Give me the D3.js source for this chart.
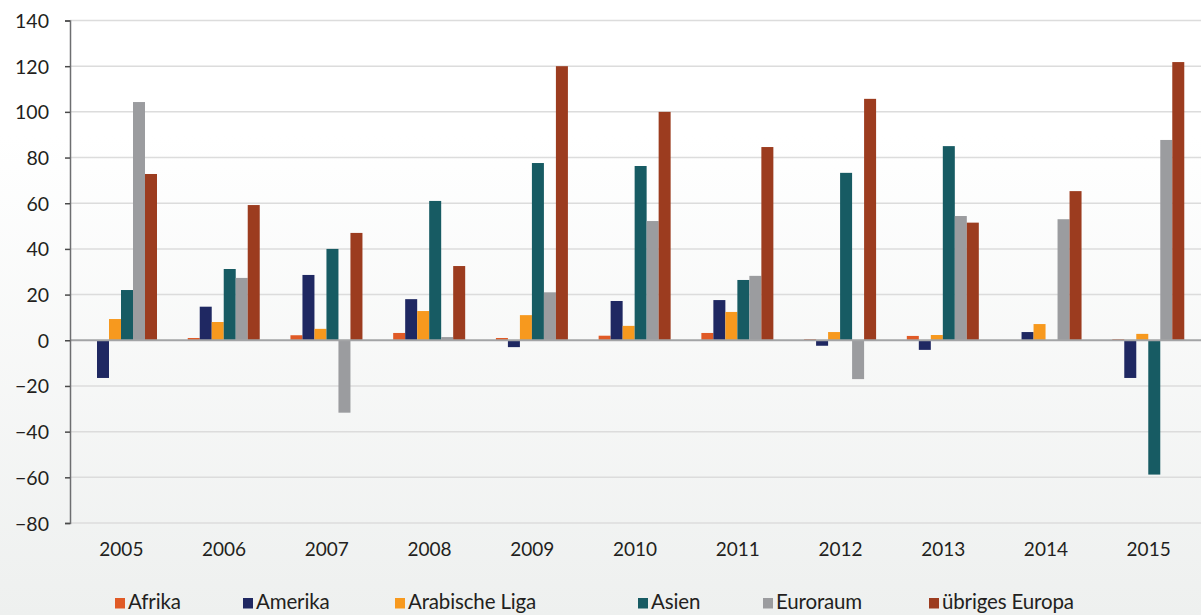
<!DOCTYPE html>
<html>
<head>
<meta charset="utf-8">
<script src="https://cdn.jsdelivr.net/npm/d3@7"></script>
<style>
  html, body { margin: 0; padding: 0; background: #ffffff; }
  svg { display: block; }
  text { font-family: Lato, "DejaVu Sans", sans-serif; fill: #231f20; }
</style>
</head>
<body>
<svg id="chart" width="1201" height="615"></svg>
<script>
// Years on the category axis
const years = ["2005","2006","2007","2008","2009","2010","2011","2012","2013","2014","2015"];

// Region series, one value per year
const seriesNames = ["Afrika", "Amerika", "Arabische Liga", "Asien", "Euroraum", "übriges Europa"];
const afrika        = [0,     1,    2.2,  3.2,  1,     2,    3.2,  0.5,  1.9,  0,    0.5];
const amerika       = [-16.5, 14.7, 28.6, 18,   -3,    17.2, 17.6, -2.4, -4.2, 3.6,  -16.5];
const arabischeLiga = [9.3,   8,    5,    12.8, 11,    6.3,  12.4, 3.6,  2.3,  7.1,  2.8];
const asien         = [22,    31.2, 40,   61,   77.6,  76.3, 26.4, 73.3, 85,   0,    -58.8];
const euroraum      = [104.3, 27.3, -31.7, 1.4, 21,    52.2, 28.2, -17,  54.4, 53,   87.7];
const uebrigesEuropa= [72.8,  59.2, 47,   32.5, 120,   100,  84.6, 105.7, 51.5, 65.3, 121.8];

const yTicks = [140, 120, 100, 80, 60, 40, 20, 0, -20, -40, -60, -80];
const colors = ["#e05a26", "#1f2862", "#f7991e", "#175b63", "#9b9c9f", "#9c3c1f"];

const seriesValues = [afrika, amerika, arabischeLiga, asien, euroraum, uebrigesEuropa];

const W = 1201, H = 615;
const plot = { left: 70, right: 1200, top: 20.5, bottom: 523 };

const svg = d3.select("#chart");

// soft vertical background gradient
const defs = svg.append("defs");
const grad = defs.append("linearGradient")
  .attr("id", "bg").attr("x1", 0).attr("y1", 0).attr("x2", 0).attr("y2", 1);
grad.append("stop").attr("offset", "0%").attr("stop-color", "#ffffff");
grad.append("stop").attr("offset", "22%").attr("stop-color", "#ffffff");
grad.append("stop").attr("offset", "100%").attr("stop-color", "#eef0ef");
svg.append("rect").attr("width", W).attr("height", H).attr("fill", "url(#bg)");

const y = d3.scaleLinear().domain([-80, 140]).range([plot.bottom, plot.top]);
const x0 = d3.scaleBand().domain(years).range([plot.left, plot.right]).padding(0);
const x1 = d3.scaleBand().domain(seriesNames).range([15, 87]).padding(0);

// horizontal gridlines
svg.append("g").selectAll("line")
  .data(yTicks.filter(t => t !== 0))
  .join("line")
  .attr("x1", plot.left).attr("x2", W)
  .attr("y1", d => y(d)).attr("y2", d => y(d))
  .attr("stroke", "#dcdcdc").attr("stroke-width", 1.5);

// bars
const groups = svg.append("g").selectAll("g")
  .data(years)
  .join("g")
  .attr("transform", d => `translate(${x0(d)},0)`);

groups.selectAll("rect")
  .data((yr, i) => seriesNames.map((name, s) => ({ name, s, v: seriesValues[s][i] })))
  .join("rect")
  .attr("x", d => x1(d.name))
  .attr("width", x1.bandwidth())
  .attr("y", d => y(Math.max(0, d.v)))
  .attr("height", d => Math.abs(y(d.v) - y(0)))
  .attr("fill", d => colors[d.s]);

// zero line
svg.append("line")
  .attr("x1", plot.left).attr("x2", W)
  .attr("y1", y(0)).attr("y2", y(0))
  .attr("stroke", "#a3a4a6").attr("stroke-width", 2);

// left axis
const yAxis = d3.axisLeft(y).tickValues(yTicks).tickSize(5).tickPadding(16).tickFormat(d3.format("d"));
const ay = svg.append("g").attr("transform", `translate(${plot.left},0)`).call(yAxis);
ay.select(".domain").attr("stroke", "#6d6e70").attr("stroke-width", 1.5);
ay.selectAll(".tick line").attr("stroke", "#4a4a4a").attr("stroke-width", 1.5);
ay.selectAll(".tick text")
  .attr("font-size", 19.5).attr("font-family", "Lato, sans-serif").attr("fill", "#231f20")
  .attr("dy", "0.36em");

// year labels
const xAxis = d3.axisBottom(x0).tickSize(0).tickPadding(20);
const ax = svg.append("g").attr("transform", `translate(0,${plot.bottom})`).call(xAxis);
ax.select(".domain").remove();
ax.selectAll(".tick text")
  .attr("font-size", 19).attr("font-family", "Lato, sans-serif").attr("fill", "#231f20");

// legend
const legendX = [115, 243, 395, 638, 763, 929];
const legend = svg.append("g").selectAll("g")
  .data(seriesNames)
  .join("g")
  .attr("transform", (d, i) => `translate(${legendX[i]},0)`);
legend.append("rect")
  .attr("x", 0).attr("y", 598).attr("width", 10).attr("height", 10.5)
  .attr("fill", (d, i) => colors[i]);
legend.append("text")
  .attr("x", 13).attr("y", 608.5)
  .attr("font-size", 20.5)
  .attr("letter-spacing", "-0.15")
  .text(d => d);
</script>
</body>
</html>
